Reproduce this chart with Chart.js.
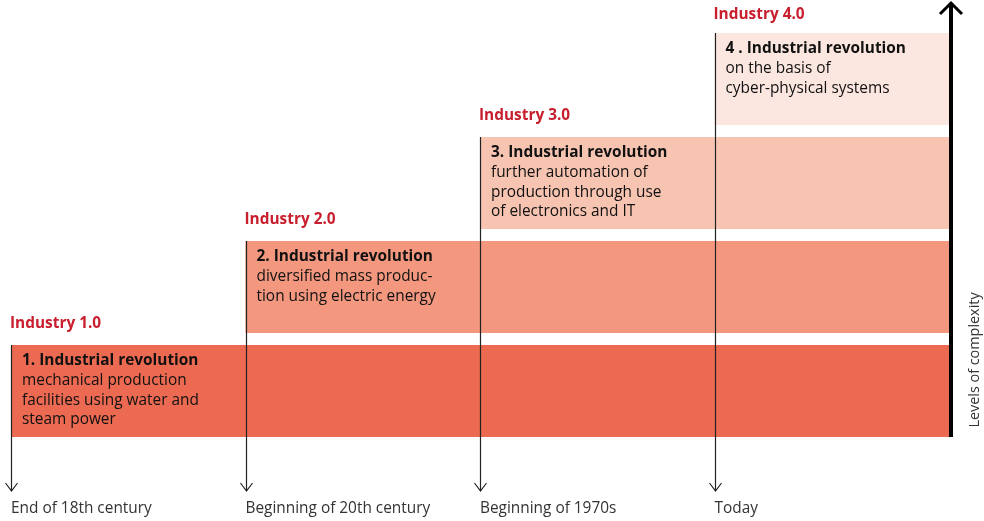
<!DOCTYPE html>
<html>
<head>
<meta charset="utf-8">
<script src="https://cdn.jsdelivr.net/npm/chart.js@4"></script>
<style>
  html, body { margin: 0; padding: 0; background: #fff; }
  #wrap { width: 984px; height: 521px; }
</style>
</head>
<body>
<div id="wrap"><canvas id="stepChart"></canvas></div>
<script>
// stages of industrial development, level 1 at the bottom
const eras = ['Industry 1.0', 'Industry 2.0', 'Industry 3.0', 'Industry 4.0'];
const startPoints = [0, 1, 2, 3];
const endPoint = 4;
const timeLabels = ['End of 18th century', 'Beginning of 20th century', 'Beginning of 1970s', 'Today'];
const titles = [
    '1. Industrial revolution',
    '2. Industrial revolution',
    '3. Industrial revolution',
    '4 . Industrial revolution',
];
const descriptions = [
    ['mechanical production', 'facilities using water and', 'steam power'],
    ['diversified mass produc-', 'tion using electric energy'],
    ['further automation of', 'production through use', 'of electronics and IT'],
    ['on the basis of', 'cyber-physical systems'],
];
const bandColors = ['#EC6A51', '#F3987F', '#F7C4B2', '#FCE7E0'];
const axisTitle = 'Levels of complexity';

const FONT = '"Open Sans", "Noto Sans", sans-serif';
const SIZE = 15.4;

const stagePlugin = {
    id: 'stages',
    afterDatasetsDraw(chart) {
        const ctx = chart.ctx;
        const meta = chart.getDatasetMeta(0);
        const xScale = chart.scales.x;
        const area = chart.chartArea;
        ctx.save();

        meta.data.forEach((bar, i) => {
            const p = bar.getProps(['x', 'y', 'base', 'height'], true);
            const left = Math.min(p.x, p.base);
            const top = p.y - p.height / 2;

            // era label above the band (kept inside the canvas at the top)
            ctx.fillStyle = '#C81E2D';
            ctx.font = 'bold ' + SIZE + 'px ' + FONT;
            ctx.textAlign = 'left';
            ctx.textBaseline = 'middle';
            ctx.fillText(eras[i], left - 1, Math.max(top - 21, 15));

            // band text
            ctx.fillStyle = '#111';
            ctx.font = 'bold ' + SIZE + 'px ' + FONT;
            ctx.fillText(titles[i], left + 11, top + 16);
            ctx.font = SIZE + 'px ' + FONT;
            descriptions[i].forEach((line, j) => {
                ctx.fillText(line, left + 11, top + 36 + j * 19.5);
            });

            // time arrow
            const ax = Math.round(xScale.getPixelForValue(startPoints[i])) + 0.5;
            ctx.strokeStyle = '#222';
            ctx.lineWidth = 1.2;
            ctx.beginPath();
            ctx.moveTo(ax, top);
            ctx.lineTo(ax, 491);
            ctx.moveTo(ax - 6, 483);
            ctx.lineTo(ax, 491);
            ctx.lineTo(ax + 6, 483);
            ctx.stroke();
        });

        // complexity axis on the right
        const rx = area.right + 2;
        ctx.strokeStyle = '#000';
        ctx.lineWidth = 4;
        ctx.lineCap = 'butt';
        ctx.beginPath();
        ctx.moveTo(rx, area.bottom - 6);
        ctx.lineTo(rx, 3);
        ctx.stroke();
        ctx.lineWidth = 3;
        ctx.beginPath();
        ctx.moveTo(rx - 11, 14);
        ctx.lineTo(rx, 3);
        ctx.lineTo(rx + 11, 14);
        ctx.stroke();

        ctx.translate(975, 360);
        ctx.rotate(-Math.PI / 2);
        ctx.fillStyle = '#333';
        ctx.font = '14.4px ' + FONT;
        ctx.textAlign = 'center';
        ctx.textBaseline = 'middle';
        ctx.fillText(axisTitle, 0, 0);
        ctx.restore();
    }
};

new Chart(document.getElementById('stepChart'), {
    type: 'bar',
    data: {
        labels: eras,
        datasets: [{
            data: startPoints.map(s => [s, endPoint]),
            backgroundColor: bandColors,
            borderWidth: 0,
            borderSkipped: false,
            categoryPercentage: 1,
            barPercentage: 0.885,
        }],
    },
    options: {
        indexAxis: 'y',
        responsive: true,
        maintainAspectRatio: false,
        animation: false,
        layout: {
            padding: { left: 11, right: 35, top: 27, bottom: 0 }
        },
        plugins: {
            legend: { display: false },
            tooltip: { enabled: false }
        },
        scales: {
            y: {
                type: 'category',
                reverse: true,
                display: false,
            },
            x: {
                type: 'linear',
                min: 0,
                max: endPoint,
                grid: { display: false, drawTicks: false },
                border: { display: false },
                afterFit(scale) {
                    scale.height = 78;
                    scale.paddingLeft = 0;
                    scale.paddingRight = 0;
                },
                ticks: {
                    stepSize: 1,
                    autoSkip: false,
                    maxRotation: 0,
                    align: 'start',
                    padding: 56,
                    color: '#333',
                    font: { family: FONT, size: SIZE },
                    callback: (v) => timeLabels[v] ?? ''
                }
            }
        }
    },
    plugins: [stagePlugin]
});
</script>
</body>
</html>
